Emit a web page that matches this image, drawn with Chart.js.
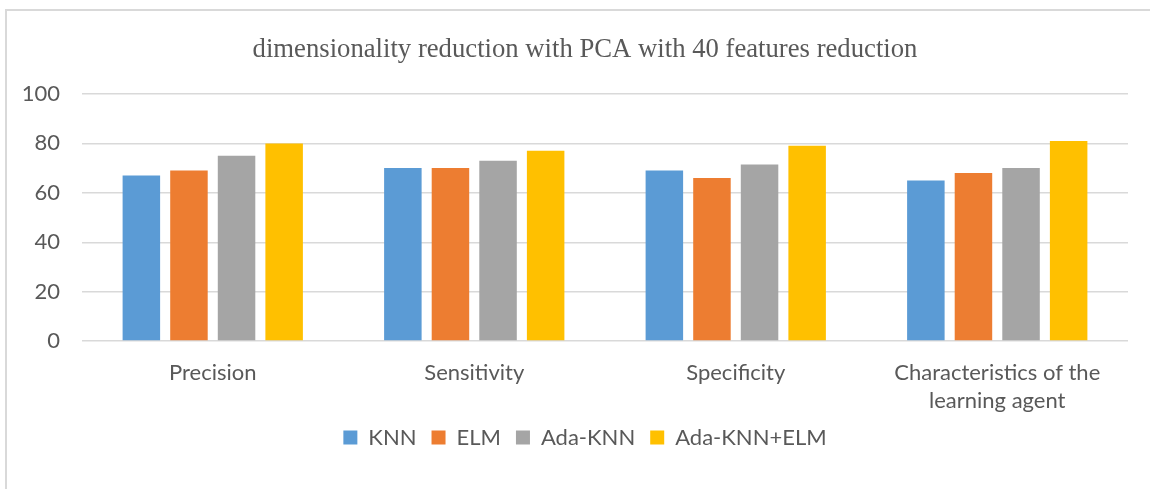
<!DOCTYPE html>
<html>
<head>
<meta charset="utf-8">
<script src="https://cdn.jsdelivr.net/npm/chart.js@4.4.1/dist/chart.umd.min.js"></script>
<style>
  html, body { margin: 0; padding: 0; background: #ffffff; overflow: hidden; }
  #wrap { position: relative; width: 1150px; height: 489px; overflow: hidden; }
  #frame { position: absolute; left: 5px; top: 9px; width: 2000px; height: 1000px;
           border-left: 2px solid #d9d9d9; border-top: 2px solid #d9d9d9; box-sizing: border-box; }
  #c { position: absolute; left: 0; top: 0; }
</style>
</head>
<body>
<div id="wrap">
  <div id="frame"></div>
  <canvas id="c" width="1150" height="489"></canvas>
</div>
<script>
const chartTitle = 'dimensionality reduction with PCA with 40 features reduction';
const categories = ['Precision', 'Sensitivity', 'Specificity', ['Characteristics of the', 'learning agent']];
const seriesNames = ['KNN', 'ELM', 'Ada-KNN', 'Ada-KNN+ELM'];
const knnValues = [67, 70, 69, 65];
const elmValues = [69, 70, 66, 68];
const adaKnnValues = [75, 73, 71.5, 70];
const adaKnnElmValues = [80, 77, 79, 81];
const yTicks = [0, 20, 40, 60, 80, 100];

const colors = ['#5B9BD5', '#ED7D31', '#A5A5A5', '#FFC000'];
const allValues = [knnValues, elmValues, adaKnnValues, adaKnnElmValues];

const textColor = '#595959';
const gridColor = '#d9d9d9';
const tickFont = { family: 'Lato', size: 22 };

// Centre title and legend on the outer chart frame rather than the canvas edge
const recentre = {
  id: 'recentre',
  afterLayout(chart) {
    const t = chart.titleBlock;
    if (t) { t.left = 42; t.right = 1128; }
    const l = chart.legend;
    if (l) { l.left = 42; l.right = 1128; l.top = 411.5; l.bottom = l.top + l.height; }
  }
};

new Chart(document.getElementById('c'), {
  type: 'bar',
  data: {
    labels: categories,
    datasets: seriesNames.map((name, i) => ({
      label: name,
      data: allValues[i],
      backgroundColor: colors[i],
      borderWidth: 0,
      categoryPercentage: 0.728,
      barPercentage: 0.788
    }))
  },
  plugins: [recentre],
  options: {
    responsive: false,
    animation: false,
    devicePixelRatio: 1,
    layout: { padding: { left: 0, right: 22, top: 34, bottom: 21 } },
    plugins: {
      title: {
        display: true,
        text: chartTitle,
        color: textColor,
        font: { family: 'Liberation Serif', size: 26.7, weight: 'normal', lineHeight: 1.2 },
        padding: { top: 0, bottom: 27.96 }
      },
      legend: {
        position: 'bottom',
        labels: {
          color: textColor,
          font: { family: 'Lato', size: 22 },
          boxWidth: 14,
          boxHeight: 14,
          padding: 15
        }
      },
      tooltip: { enabled: false }
    },
    scales: {
      x: {
        grid: { display: false, drawTicks: false },
        border: { display: false },
        ticks: { color: textColor, font: { family: 'Lato', size: 22, lineHeight: 1.25 }, padding: 18.5, maxRotation: 0, autoSkip: false },
        afterFit: (s) => { s.height = 80; }
      },
      y: {
        min: 0,
        max: 100,
        afterBuildTicks: (s) => { s.ticks = yTicks.map(v => ({ value: v })); },
        grid: { color: gridColor, lineWidth: 1.4, drawTicks: false },
        border: { display: false },
        ticks: { color: textColor, font: tickFont, padding: 22 },
        afterFit: (s) => { s.width = 82; }
      }
    }
  }
});
</script>
</body>
</html>
